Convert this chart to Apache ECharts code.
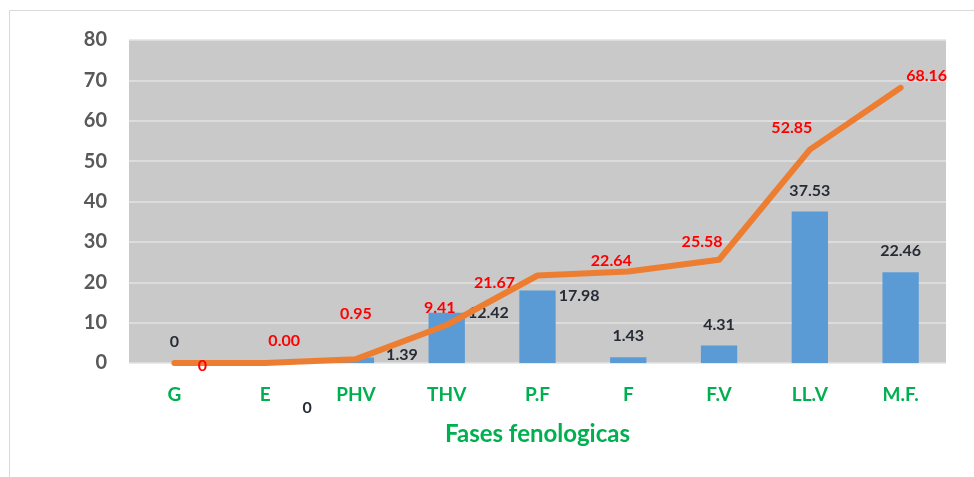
<!DOCTYPE html>
<html>
<head>
<meta charset="utf-8">
<script src="https://cdn.jsdelivr.net/npm/echarts@6/dist/echarts.min.js"></script>
<style>
  html, body { margin: 0; padding: 0; background: #fff; }
  #myChart { width: 974px; height: 477px; }
</style>
</head>
<body>
<div id="myChart"></div>
<script>
  // phenological phases
  var categories = ['G', 'E', 'PHV', 'THV', 'P.F', 'F', 'F.V', 'LL.V', 'M.F.'];
  var barValues = [0, 0, 1.39, 12.42, 17.98, 1.43, 4.31, 37.53, 22.46];
  var lineValues = [0, 0, 0.95, 9.41, 21.67, 22.64, 25.58, 52.85, 68.16];
  var lineLabels = ['0', '0.00', '0.95', '9.41', '21.67', '22.64', '25.58', '52.85', '68.16'];
  var yTicks = [0, 10, 20, 30, 40, 50, 60, 70, 80];

  var font = 'Lato, "Open Sans", sans-serif';

  // label placement tweaks (Excel moved some labels by hand)
  var lineOffsets = [[28, 3], [19, -22], [0, -45], [-7, -17], [-43, 7], [-17, -11], [-17, -18], [-18, -22], [26, -12]];
  var sideOffsets = { 2: [12, -11], 3: [3, -8], 4: [3, -3] };

  var myChart = echarts.init(document.getElementById('myChart'));

  var barData = barValues.map(function (v, i) {
    var item = { value: v };
    if (i === 1) {
      item.label = { offset: [42, 66] };
    } else if (sideOffsets[i]) {
      item.label = { position: ['100%', 0], offset: sideOffsets[i], align: 'left', verticalAlign: 'top' };
    }
    return item;
  });

  var lineData = lineValues.map(function (v, i) {
    return { value: v, label: { offset: lineOffsets[i] } };
  });

  myChart.setOption({
    backgroundColor: '#fff',
    animation: false,
    graphic: [{
      type: 'rect',
      shape: { x: 9.5, y: 10.5, width: 1000, height: 500 },
      style: { fill: 'none', stroke: '#d9d9d9', lineWidth: 1 },
      silent: true
    }],
    grid: {
      left: 129,
      right: 28,
      top: 40,
      bottom: 114,
      show: true,
      backgroundColor: '#c9c9c9',
      borderWidth: 0
    },
    xAxis: {
      type: 'category',
      data: categories,
      name: 'Fases fenologicas',
      nameLocation: 'middle',
      nameGap: 59,
      nameTextStyle: { color: '#00b050', fontWeight: 'bold', fontSize: 24, fontFamily: font },
      axisLine: { show: false },
      axisTick: { show: false },
      axisLabel: { color: '#00b050', fontWeight: 'bold', fontSize: 19, fontFamily: font, margin: 22 }
    },
    yAxis: {
      type: 'value',
      min: yTicks[0],
      max: yTicks[yTicks.length - 1],
      interval: 10,
      axisLine: { show: false },
      axisTick: { show: false },
      splitLine: { lineStyle: { color: '#e2e2e2', width: 1.5 } },
      axisLabel: { color: '#595959', fontWeight: 'bold', fontSize: 20, fontFamily: font, margin: 22 }
    },
    series: [
      {
        name: 'bar',
        type: 'bar',
        data: barData,
        barWidth: '40%',
        itemStyle: { color: '#5b9bd5' },
        label: {
          show: true,
          position: 'top',
          distance: 13,
          color: '#262b36',
          fontWeight: 'bold',
          fontSize: 16,
          fontFamily: font,
          formatter: function (p) { return String(p.value); }
        },
        z: 2
      },
      {
        name: 'line',
        type: 'line',
        data: lineData,
        showSymbol: true,
        symbol: 'circle',
        symbolSize: 1,
        lineStyle: { color: '#ed7d31', width: 6, cap: 'round', join: 'round' },
        itemStyle: { color: '#ed7d31' },
        label: {
          show: true,
          position: 'inside',
          color: '#ff0000',
          fontWeight: 'bold',
          fontSize: 16,
          fontFamily: font,
          formatter: function (p) { return lineLabels[p.dataIndex]; }
        },
        z: 3
      }
    ]
  });
</script>
</body>
</html>
